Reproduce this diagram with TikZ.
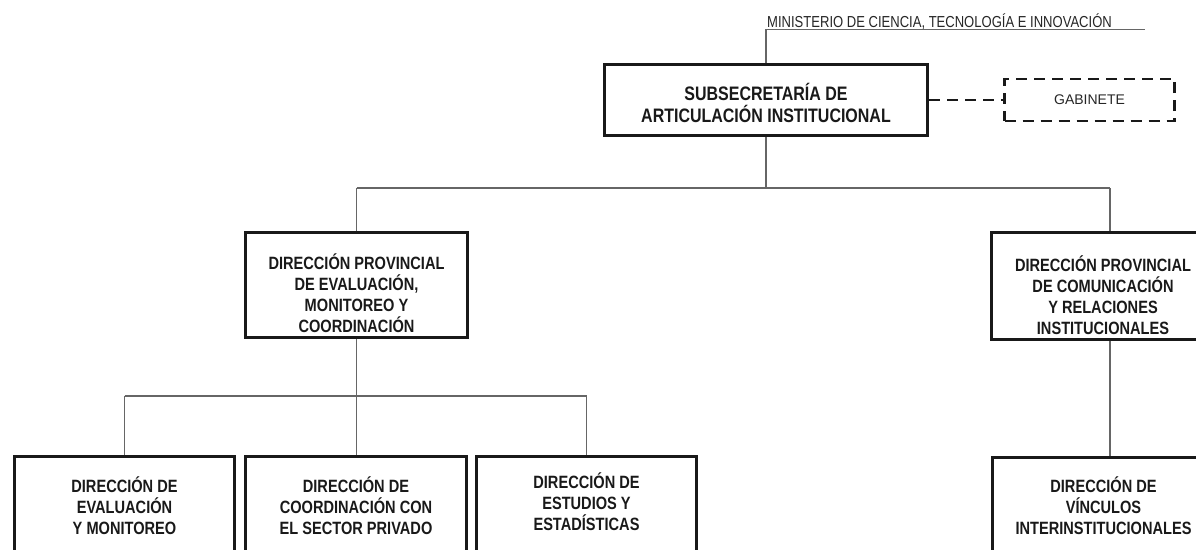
\documentclass[tikz,border=0pt]{standalone}
\usepackage{fontspec}
\setmainfont{Liberation Sans}
\newfontfamily\narrowfont[FakeStretch=0.82]{Liberation Sans}
\usetikzlibrary{calc}
\begin{document}
\begin{tikzpicture}[x=1pt,y=-1pt,
  box/.style={draw=black!90, line width=3pt, rectangle, inner sep=0pt},
  lbl/.style={font=\narrowfont\bfseries\fontsize{17.8}{21}\selectfont, align=center, inner sep=0pt, anchor=base, text=black!90},
  conn/.style={draw=black!60, line width=1.1pt},
  dashline/.style={draw=black!90, line width=2.6pt, dash pattern=on 11pt off 7pt}]
\useasboundingbox (0,0) rectangle (1196,549);
\clip (0,0) rectangle (1196,549);

% top
\node[box, minimum width=323pt, minimum height=71pt] (sub) at (766,100) {};
\node[lbl, font=\narrowfont\bfseries\fontsize{19.5}{22.5}\selectfont] (subt) at (766,122.5) {SUBSECRETARÍA DE\\ARTICULACIÓN INSTITUCIONAL};
\node[font=\narrowfont\fontsize{15.9}{18}\selectfont, anchor=base west, inner sep=0pt, text=black!85] (min) at (767,27) {MINISTERIO DE CIENCIA, TECNOLOGÍA E INNOVACIÓN};
\coordinate (ul) at (766,29.5);
\coordinate (ur) at (1145,29.5);
\draw[conn] (sub.north) -- (ul) -- (ur);

\node[dashline, rectangle, minimum width=170pt, minimum height=42pt, inner sep=0pt, font=\fontsize{14}{16}\selectfont, text=black!85] (gab) at (1089.5,100) {GABINETE};
\draw[dashline] (sub.east) -- (gab.west);

% level 2
\node[box, minimum width=222pt, minimum height=105pt] (p1) at (356.5,285) {};
\node[lbl] (p1t) at (356.5,332) {DIRECCIÓN PROVINCIAL\\DE EVALUACIÓN,\\MONITOREO Y\\COORDINACIÓN};
\node[box, minimum width=223pt, minimum height=107pt] (p2) at (1103,286) {};
\node[lbl] (p2t) at (1103,334) {DIRECCIÓN PROVINCIAL\\DE COMUNICACIÓN\\Y RELACIONES\\INSTITUCIONALES};

\coordinate (b0) at (766,188);
\coordinate (bl) at (356.5,188);
\coordinate (br) at (1110,188);
\draw[conn] (sub.south) -- (b0);
\draw[conn] (bl) -- (br);
\draw[conn] (bl) -- (bl |- p1.north);
\draw[conn] (br) -- (br |- p2.north);

% level 3
\node[box, minimum width=220pt, minimum height=140pt] (d1) at (124.5,526.5) {};
\node[lbl] (d1t) at (124.5,534) {DIRECCIÓN DE\\EVALUACIÓN\\Y MONITOREO};
\node[box, minimum width=221pt, minimum height=140pt] (d2) at (356,526.5) {};
\node[lbl] (d2t) at (356,534) {DIRECCIÓN DE\\COORDINACIÓN CON\\EL SECTOR PRIVADO};
\node[box, minimum width=220pt, minimum height=140pt] (d3) at (586.5,526.5) {};
\node[lbl] (d3t) at (586.5,530) {DIRECCIÓN DE\\ESTUDIOS Y\\ESTADÍSTICAS};
\node[box, minimum width=222pt, minimum height=140pt] (d4) at (1103.5,527) {};
\node[lbl] (d4t) at (1103.5,534) {DIRECCIÓN DE\\VÍNCULOS\\INTERINSTITUCIONALES};

\coordinate (c0) at (356.5,396);
\coordinate (cl) at (124.5,396);
\coordinate (cr) at (586.5,396);
\draw[conn] (p1.south) -- (c0);
\draw[conn] (cl) -- (cr);
\draw[conn] (cl) -- (cl |- d1.north);
\draw[conn] (c0) -- (c0 |- d2.north);
\draw[conn] (cr) -- (cr |- d3.north);
\draw[conn] (br |- p2.south) -- (br |- d4.north);
\end{tikzpicture}
\end{document}
